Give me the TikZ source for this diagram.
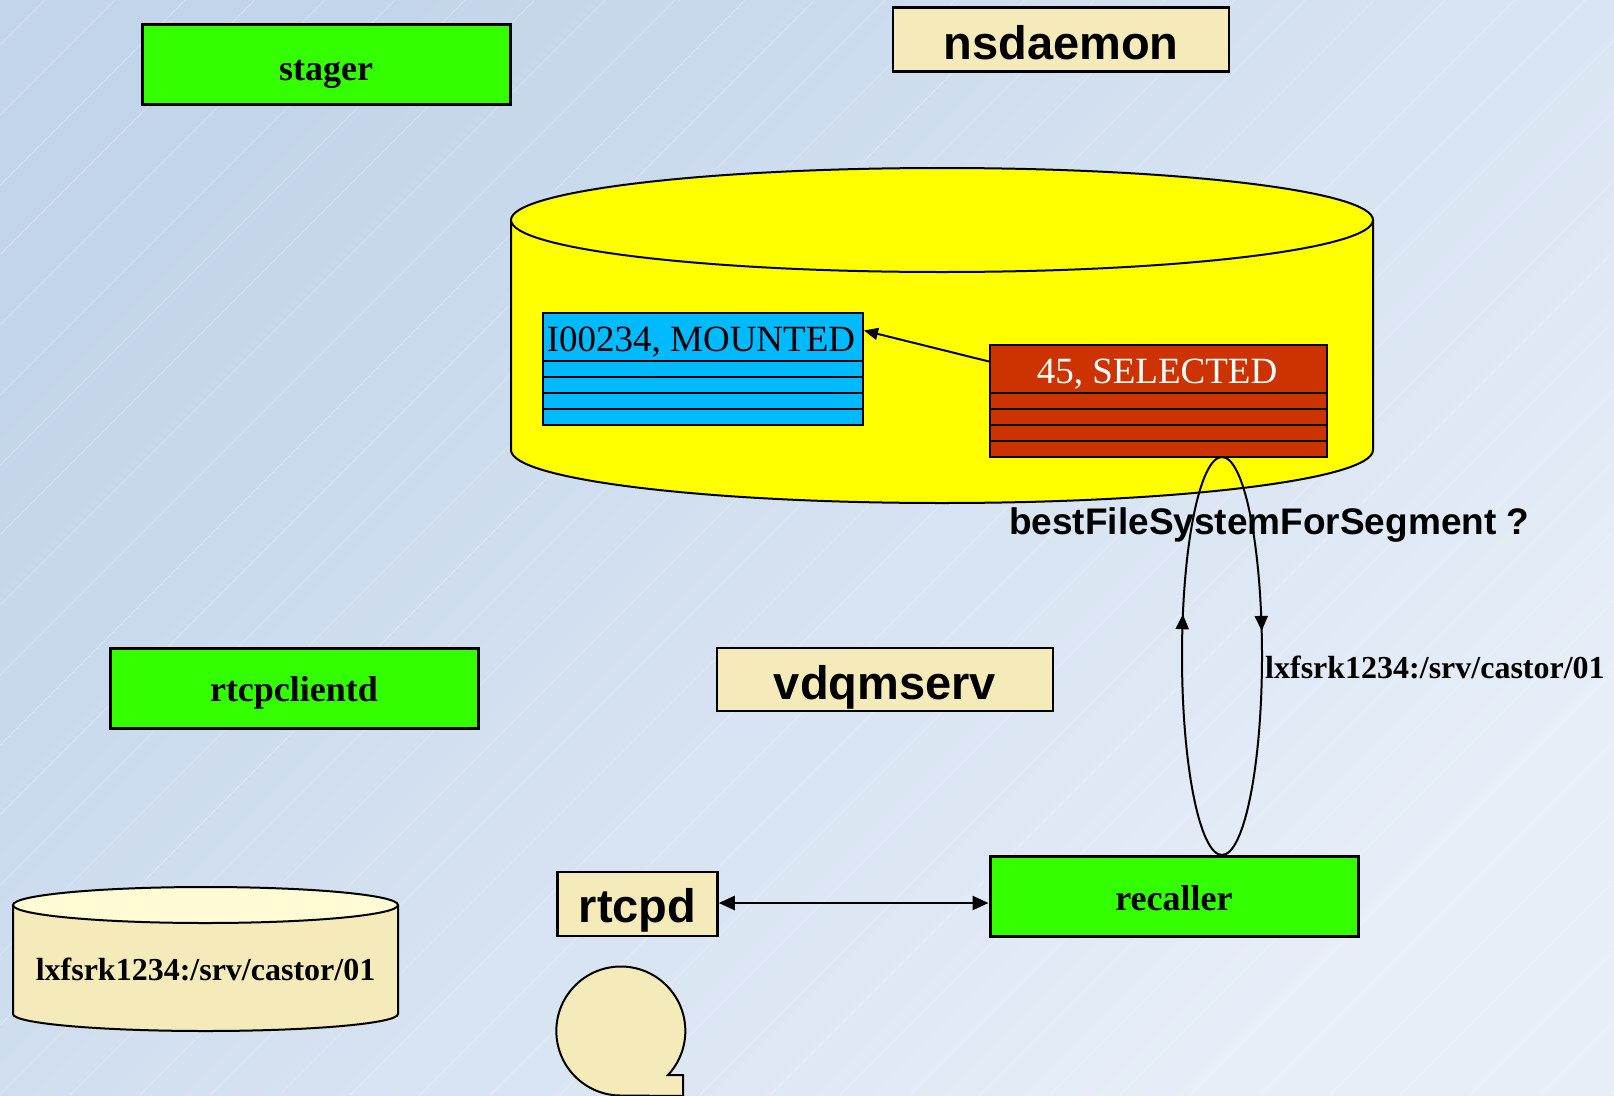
\documentclass[tikz,border=0pt]{standalone}
\usepackage{fontspec}
\setmainfont{Liberation Serif}
\newfontfamily\arialfont{Liberation Sans}
\usetikzlibrary{arrows.meta,decorations.markings}

\definecolor{bgA}{HTML}{C3D5EA}
\definecolor{bgB}{HTML}{E7EEF8}
\definecolor{procgreen}{HTML}{33FF00}
\definecolor{cream}{HTML}{F5EABA}
\definecolor{creamtop}{HTML}{FFFBD4}
\definecolor{dbyellow}{HTML}{FFFF00}
\definecolor{rowblue}{HTML}{00BAFF}
\definecolor{rowred}{HTML}{CC3300}

\newcommand\fsz[1]{\fontsize{#1}{#1}\selectfont}

\begin{document}
\begin{tikzpicture}[x=1pt,y=-1pt,
  greenbox/.style={draw, line width=3pt, fill=procgreen, inner sep=0pt,
    minimum width=368pt, minimum height=80pt, text depth=0pt,
    font=\fsz{36}\bfseries},
  daemonbox/.style={draw, line width=2.5pt, fill=cream, inner sep=0pt,
    minimum height=64pt, text depth=0pt, font=\arialfont\fsz{47}\bfseries},
  headcell/.style={draw, line width=2pt, inner sep=0pt, anchor=north west,
    minimum height=49pt, text depth=0pt},
  rowcell/.style={draw, line width=2pt, anchor=north west, inner sep=0pt,
    minimum height=16pt},
  dbline/.style={draw=black, line width=2pt},
  conn/.style={line width=2.5pt},
  loopline/.style={line width=2pt},
]
\useasboundingbox (0,0) rectangle (1614,1095);
\clip (0,0) rectangle (1614,1095);

% background
\shade[left color=bgA, right color=bgB, shading angle=45]
  (0,0) rectangle (1614,1095);
\foreach \i in {-1120,-1050,...,1614}
  \draw[white, opacity=0.25, line width=0.8pt] (\i,1095) -- ++(1095,-1095);

% database cylinder
\path[fill=dbyellow, dbline] (511,220) -- (511,450)
  arc[start angle=180, end angle=0, x radius=431, y radius=53]
  -- (1373,220);
\draw[fill=dbyellow, dbline] (942,220) ellipse[x radius=431, y radius=52];
\coordinate (db) at (942,335);

% volume table
\node[headcell, fill=rowblue, minimum width=320pt, text height=0pt] (blueHead) at (542,312) {};
\node[anchor=base, font=\fsz{37}] (blueText) at (701,351) {I00234, MOUNTED};
\foreach \k in {0,1,2,3}
  \node[rowcell, fill=rowblue, minimum width=320pt] (blueRow\k) at (542,360+16*\k) {};

% segment table
\node[headcell, fill=rowred, minimum width=337pt, text height=0pt] (redHead) at (989,344) {};
\node[anchor=base, font=\fsz{37}, text=white] (redText) at (1157,383) {45, SELECTED};
\foreach \k in {0,1,2,3}
  \node[rowcell, fill=rowred, minimum width=337pt] (redRow\k) at (989,392+16*\k) {};

\draw[conn, line width=2pt, -{Triangle[length=14pt,width=12pt]}]
  ([yshift=8pt]redHead.west) -- ([yshift=7pt]blueHead.east);

% daemons and processes
\node[greenbox, text height=32pt] (stager) at (326,64) {stager};
\node[greenbox, text height=27pt] (rtcpclientd) at (294,688) {rtcpclientd};
\node[greenbox, text height=29pt] (recaller) at (1174,896) {recaller};
\node[daemonbox, minimum width=336pt, text height=40pt] (nsdaemon) at (1061,39.5) {nsdaemon};
\node[daemonbox, minimum width=336pt, minimum height=63pt, text height=39pt] (vdqmserv) at (885,679.5) {vdqmserv};
\node[daemonbox, minimum width=160pt, text height=37pt] (rtcpd) at (637.5,904) {rtcpd};

\draw[conn, {Triangle[length=16pt,width=14pt]}-{Triangle[length=16pt,width=14pt]}]
  ([yshift=1pt]rtcpd.east) -- ([yshift=1pt]rtcpd.east -| recaller.west);

% request / answer loop
\coordinate (loopTop) at (1222,457);
\coordinate (loopBot) at (1222,855);
\draw[loopline, postaction={decorate}, decoration={markings,
    mark=at position 0.6 with {\arrow{Triangle[length=15pt,width=13pt]}}}]
  (loopBot) arc[start angle=90, end angle=270, x radius=40, y radius=199];
\draw[loopline, postaction={decorate}, decoration={markings,
    mark=at position 0.44 with {\arrow{Triangle[length=15pt,width=13pt]}}}]
  (loopTop) arc[start angle=270, end angle=450, x radius=40, y radius=199];

\node[anchor=base west, inner sep=0pt, font=\arialfont\fsz{37}\bfseries]
  (question) at (1009,534.5) {bestFileSystemForSegment ?};
\node[anchor=base west, inner sep=0pt, font=\fsz{32}\bfseries]
  (answer) at (1265,678) {lxfsrk1234:/srv/castor/01};

% disk server file system
\path[fill=cream, dbline] (13,905) -- (13,1014)
  arc[start angle=180, end angle=0, x radius=192.5, y radius=17]
  -- (398,905);
\draw[fill=creamtop, dbline] (205.5,905) ellipse[x radius=192.5, y radius=18];
\node[anchor=base, inner sep=0pt, font=\fsz{32}\bfseries]
  (fsname) at (205.5,980) {lxfsrk1234:/srv/castor/01};

% tape
\draw[fill=cream, line width=2pt] (683,1096) -- (683,1075) -- (668,1075)
  arc[start angle=43, end angle=-270, radius=64.5] -- cycle;
\coordinate (tape) at (621,1031);
\end{tikzpicture}
\end{document}
